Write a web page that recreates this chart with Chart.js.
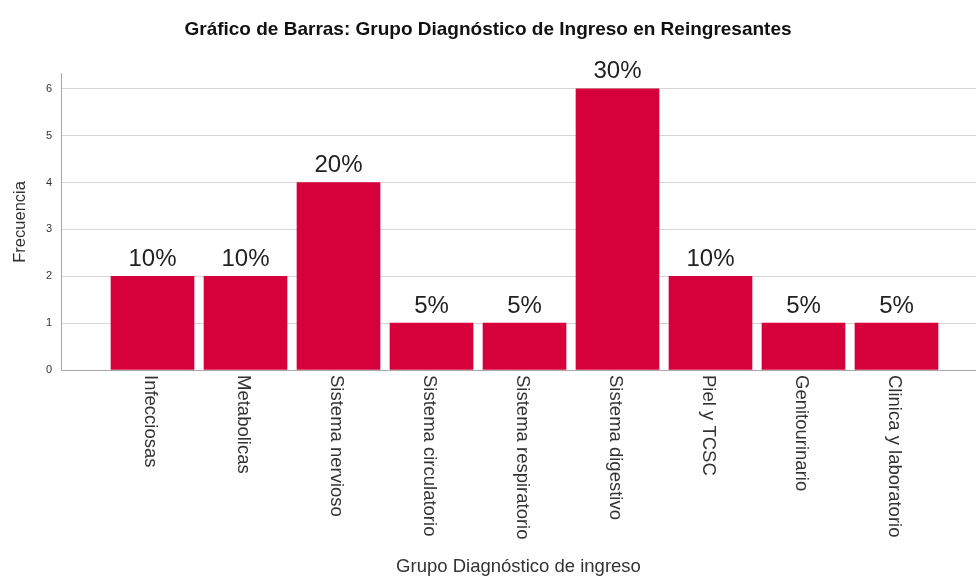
<!DOCTYPE html>
<html>
<head>
<meta charset="utf-8">
<script src="https://cdn.jsdelivr.net/npm/chart.js@4.4.1/dist/chart.umd.min.js"></script>
<style>
  html, body { margin: 0; padding: 0; background: #fff; }
  #wrap { width: 976px; height: 579px; position: relative; }
</style>
</head>
<body>
<div id="wrap"><canvas id="barChart"></canvas></div>
<script>
var categorias = ['Infecciosas', 'Metabolicas', 'Sistema nervioso', 'Sistema circulatorio',
    'Sistema respiratorio', 'Sistema digestivo', 'Piel y TCSC', 'Genitourinario', 'Clinica y laboratorio'];
var frecuencias = [2, 2, 4, 1, 1, 6, 2, 1, 1];
var porcentajes = ['10%', '10%', '20%', '5%', '5%', '30%', '10%', '5%', '5%'];
var yTicks = [0, 1, 2, 3, 4, 5, 6];

var fontFamily = '"Liberation Sans", Arial, sans-serif';
var barColor = '#d6003a';

// etiquetas de porcentaje y categorias (rotadas 90 grados, leyendo hacia abajo)
var etiquetasPlugin = {
    id: 'etiquetas',
    afterDatasetsDraw: function (chart) {
        var ctx = chart.ctx;
        var meta = chart.getDatasetMeta(0);
        ctx.save();
        ctx.fillStyle = '#222';
        ctx.font = '24px ' + fontFamily;
        ctx.textAlign = 'center';
        ctx.textBaseline = 'bottom';
        meta.data.forEach(function (bar, i) {
            ctx.fillText(porcentajes[i], bar.x, bar.y - 5);
        });
        ctx.restore();
    },
    afterDraw: function (chart) {
        var ctx = chart.ctx;
        var xScale = chart.scales.x;
        ctx.save();
        ctx.fillStyle = '#333';
        ctx.font = '18.5px ' + fontFamily;
        ctx.textAlign = 'left';
        ctx.textBaseline = 'middle';
        categorias.forEach(function (c, i) {
            ctx.save();
            ctx.translate(xScale.getPixelForValue(i) - 2, xScale.top + 5);
            ctx.rotate(Math.PI / 2);
            ctx.fillText(c, 0, 0);
            ctx.restore();
        });
        ctx.restore();
    }
};

var canvas = document.getElementById('barChart');
var barChart = new Chart(canvas.getContext('2d'), {
    type: 'bar',
    data: {
        labels: categorias,
        datasets: [{
            data: categorias.map(function (c, i) { return { x: i, y: frecuencias[i] }; }),
            backgroundColor: barColor,
            borderWidth: 0,
            barThickness: 83
        }]
    },
    options: {
        responsive: true,
        maintainAspectRatio: false,
        animation: false,
        layout: { padding: { left: 0, right: 0, top: 0, bottom: 0 } },
        plugins: {
            legend: { display: false },
            tooltip: { enabled: false },
            title: {
                display: true,
                text: 'Gráfico de Barras: Grupo Diagnóstico de Ingreso en Reingresantes',
                color: '#111',
                font: { family: fontFamily, size: 19, weight: 'bold' },
                padding: { top: 18, bottom: 33 }
            }
        },
        scales: {
            x: {
                type: 'linear',
                offset: false,
                min: -0.984,
                max: 8.855,
                grid: { display: false, offset: false },
                border: { display: true, color: '#a8a8a8', width: 1 },
                ticks: { display: false },
                afterFit: function (scale) { scale.height = 209; },
                title: {
                    display: true,
                    text: 'Grupo Diagnóstico de ingreso',
                    color: '#333',
                    font: { family: fontFamily, size: 18.5 },
                    padding: { top: 0, bottom: 1 }
                }
            },
            y: {
                min: 0,
                max: 6.32,
                afterFit: function (scale) { scale.width = 61; },
                afterBuildTicks: function (scale) {
                    scale.ticks = yTicks.map(function (v) { return { value: v }; });
                },
                grid: { color: '#d6d6d6', drawTicks: false },
                border: { display: true, color: '#a8a8a8', width: 1 },
                ticks: {
                    color: '#333',
                    padding: 9,
                    font: { family: fontFamily, size: 11 }
                },
                title: {
                    display: true,
                    text: 'Frecuencia',
                    color: '#333',
                    font: { family: fontFamily, size: 16.5 },
                    padding: { top: 11, bottom: 0 }
                }
            }
        }
    },
    plugins: [etiquetasPlugin]
});
</script>
</body>
</html>
